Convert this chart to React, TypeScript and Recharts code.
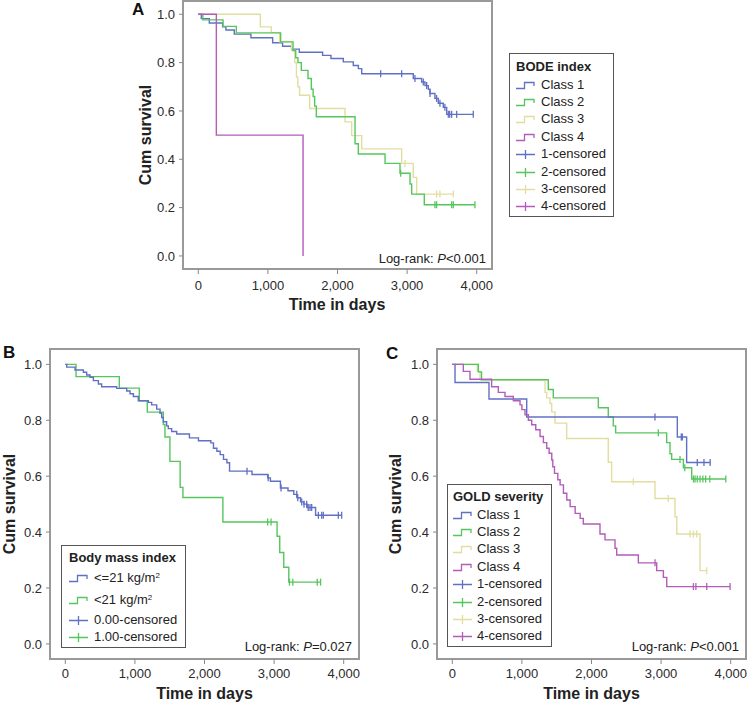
import React from 'react';
import { ComposedChart, Line, Scatter, XAxis, YAxis, ReferenceArea } from 'recharts';

type Pt = [number, number];

const FONT = '"Liberation Sans", Arial, Helvetica, sans-serif';

const xTicks = [0, 1000, 2000, 3000, 4000];
const yTicks = [0, 0.2, 0.4, 0.6, 0.8, 1.0];
const xDomain: [number, number] = [-220, 4220];
const yDomain: [number, number] = [-0.054, 1.055];

const BLUE = '#6070c4';
const GREEN = '#55c65d';
const YELLOW = '#e2dea0';
const PURPLE = '#b35cb9';

// A: BODE index  [day, cum survival]
const bodeClass1: Pt[] = [
  [0, 1], [43, 0.982], [158, 0.964], [349, 0.948], [397, 0.935], [517, 0.918], [756, 0.903],
  [1068, 0.882], [1211, 0.868], [1340, 0.856], [1451, 0.843], [1786, 0.83], [1906, 0.817],
  [2083, 0.803], [2227, 0.788], [2300, 0.775], [2348, 0.754], [3089, 0.734], [3209, 0.72],
  [3257, 0.705], [3305, 0.69], [3329, 0.672], [3400, 0.652], [3448, 0.632], [3520, 0.615],
  [3569, 0.586], [3951, 0.586],
];
const bodeClass1Cens = [2620, 2922, 3113, 3233, 3281, 3329, 3424, 3472, 3543, 3592, 3612, 3640, 3712, 3951];

const bodeClass2: Pt[] = [
  [0, 1], [65, 0.977], [355, 0.95], [546, 0.923], [1183, 0.886], [1361, 0.85], [1400, 0.82],
  [1432, 0.8], [1480, 0.768], [1576, 0.734], [1624, 0.69], [1650, 0.66], [1672, 0.62],
  [1696, 0.576], [2252, 0.464], [2299, 0.422], [2683, 0.383], [2898, 0.342], [3042, 0.298],
  [3066, 0.256], [3247, 0.212], [3975, 0.212],
];
const bodeClass2Cens = [2908, 3400, 3424, 3640, 3664, 3975];

const bodeClass3: Pt[] = [
  [0, 1], [891, 0.948], [1049, 0.924], [1169, 0.886], [1340, 0.85], [1385, 0.8], [1410, 0.74],
  [1430, 0.7], [1455, 0.665], [1600, 0.61], [2108, 0.555], [2204, 0.498], [2348, 0.443],
  [2922, 0.383], [3089, 0.325], [3138, 0.256], [3664, 0.256],
];
const bodeClass3Cens = [2970, 3424, 3472, 3664];

const bodeClass4: Pt[] = [[0, 1], [259, 0.5], [1505, 0]];
const bodeClass4Cens: number[] = [];

// B: Body mass index
const bmiLow: Pt[] = [
  [0, 1], [20, 0.99], [140, 0.98], [260, 0.972], [307, 0.962], [355, 0.954], [403, 0.942],
  [475, 0.93], [522, 0.92], [738, 0.914], [882, 0.905], [930, 0.895], [978, 0.885], [1049, 0.87],
  [1193, 0.864], [1241, 0.855], [1313, 0.84], [1361, 0.825], [1385, 0.81], [1408, 0.795],
  [1456, 0.78], [1480, 0.77], [1528, 0.76], [1600, 0.751], [1783, 0.737], [1913, 0.727],
  [2091, 0.719], [2129, 0.7], [2178, 0.689], [2225, 0.677], [2273, 0.66], [2322, 0.648],
  [2360, 0.618], [2683, 0.606], [2908, 0.594], [2947, 0.582], [3091, 0.558], [3200, 0.548],
  [3283, 0.535], [3332, 0.523], [3380, 0.508], [3427, 0.5], [3476, 0.488], [3596, 0.46],
  [3975, 0.46],
];
const bmiLowCens = [2611, 2915, 3100, 3325, 3340, 3397, 3430, 3468, 3490, 3516, 3540, 3636, 3684, 3707, 3923, 3971];

const bmiHigh: Pt[] = [
  [0, 1], [154, 0.956], [776, 0.915], [1063, 0.87], [1178, 0.829], [1408, 0.785], [1432, 0.74],
  [1503, 0.653], [1650, 0.56], [1690, 0.524], [2264, 0.436], [3043, 0.385], [3081, 0.327],
  [3139, 0.274], [3211, 0.221], [3668, 0.221],
];
const bmiHighCens = [2908, 2956, 3221, 3269, 3620, 3668];

// C: GOLD severity
const goldClass1: Pt[] = [[0, 1], [39, 0.935], [527, 0.876], [1069, 0.812], [3233, 0.74], [3367, 0.649], [3705, 0.649]];
const goldClass1Cens = [2912, 3290, 3305, 3520, 3616, 3705];

const goldClass2: Pt[] = [
  [0, 1], [374, 0.973], [420, 0.945], [1379, 0.91], [1451, 0.88], [2098, 0.845], [2241, 0.812],
  [2313, 0.78], [2347, 0.755], [3080, 0.72], [3128, 0.68], [3152, 0.66], [3320, 0.63],
  [3440, 0.59], [3930, 0.59],
];
const goldClass2Cens = [2960, 3272, 3340, 3465, 3488, 3520, 3560, 3600, 3640, 3700, 3930];

const goldClass3: Pt[] = [
  [0, 1], [359, 0.975], [398, 0.945], [1333, 0.9], [1356, 0.88], [1404, 0.86], [1428, 0.83],
  [1476, 0.79], [1643, 0.735], [2241, 0.65], [2289, 0.58], [2912, 0.52], [3200, 0.455],
  [3225, 0.393], [3560, 0.262], [3656, 0.262],
];
const goldClass3Cens = [2601, 3103, 3416, 3464, 3512, 3656];

const goldClass4: Pt[] = [
  [0, 1], [158, 0.975], [254, 0.947], [565, 0.92], [661, 0.9], [757, 0.885], [877, 0.87],
  [973, 0.855], [1000, 0.838], [1045, 0.82], [1093, 0.8], [1141, 0.784], [1199, 0.766],
  [1261, 0.742], [1309, 0.72], [1357, 0.7], [1391, 0.682], [1429, 0.658], [1444, 0.634],
  [1468, 0.61], [1516, 0.587], [1549, 0.569], [1597, 0.539], [1645, 0.515], [1693, 0.491],
  [1765, 0.467], [1837, 0.449], [1882, 0.429], [2122, 0.393], [2194, 0.372], [2338, 0.342],
  [2362, 0.318], [2673, 0.29], [2937, 0.262], [3033, 0.238], [3081, 0.205], [3991, 0.205],
];
const goldClass4Cens = [2913, 3464, 3500, 3656, 3991];

const toRows = (pts: Pt[]) => pts.map(([t, s]) => ({ t, s }));
const survAt = (pts: Pt[], t: number) => {
  let s = pts[0][1];
  for (const [pt, ps] of pts) if (pt <= t) s = ps;
  return s;
};
const censRows = (pts: Pt[], times: number[]) => times.map((t) => ({ t, s: survAt(pts, t) }));

interface Curve {
  pts: Pt[];
  cens: number[];
  color: string;
}

interface KMProps {
  left: number;
  top: number;
  width: number;
  height: number;
  margin: { top: number; right: number; bottom: number; left: number };
  xTickMargin: number;
  curves: Curve[];
}

const tickStyle = { fontSize: 13, fill: '#2a2a2a', fontFamily: FONT };

function KMChart({ left, top, width, height, margin, xTickMargin, curves }: KMProps) {
  return (
    <div style={{ position: 'absolute', left, top }}>
      <ComposedChart width={width} height={height} margin={margin}>
        <XAxis
          type="number"
          dataKey="t"
          domain={xDomain}
          ticks={xTicks}
          interval={0}
          allowDataOverflow
          axisLine={false}
          tickLine={{ stroke: '#888' }}
          tickSize={5}
          tickMargin={xTickMargin}
          height={30}
          tick={tickStyle}
          tickFormatter={(v: number) => v.toLocaleString('en-US')}
        />
        <YAxis
          type="number"
          dataKey="s"
          domain={yDomain}
          ticks={yTicks}
          interval={0}
          allowDataOverflow
          axisLine={false}
          tickLine={{ stroke: '#888' }}
          tickSize={4}
          tickMargin={4}
          width={40}
          tick={tickStyle}
          tickFormatter={(v: number) => v.toFixed(1)}
        />
        <ReferenceArea
          x1={xDomain[0]}
          x2={xDomain[1]}
          y1={yDomain[0]}
          y2={yDomain[1]}
          fill="none"
          fillOpacity={0}
          stroke="#999"
          strokeWidth={2}
          ifOverflow="visible"
        />
        {curves.map((c, i) => (
          <Line
            key={'l' + i}
            data={toRows(c.pts)}
            dataKey="s"
            type="stepAfter"
            stroke={c.color}
            strokeWidth={1.4}
            dot={false}
            activeDot={false}
            isAnimationActive={false}
          />
        ))}
        {curves.map((c, i) => (
          <Scatter
            key={'c' + i}
            data={censRows(c.pts, c.cens)}
            dataKey="s"
            fill={c.color}
            isAnimationActive={false}
            shape={(p: any) => (
              <line x1={p.cx} x2={p.cx} y1={p.cy - 3.5} y2={p.cy + 3.5} stroke={c.color} strokeWidth={1.3} />
            )}
          />
        ))}
      </ComposedChart>
    </div>
  );
}

function StepIcon({ color }: { color: string }) {
  return (
    <svg width={19} height={10} style={{ display: 'block' }}>
      <path d="M0,8.5 H8.5 V2.5 H18 V6" fill="none" stroke={color} strokeWidth={1.3} />
    </svg>
  );
}

function CensIcon({ color }: { color: string }) {
  return (
    <svg width={19} height={10} style={{ display: 'block' }}>
      <path d="M0,5.5 H19 M9.5,1 V10" fill="none" stroke={color} strokeWidth={1.3} />
    </svg>
  );
}

interface LegendItem {
  label: React.ReactNode;
  color: string;
  kind: 'step' | 'cens';
  h?: number;
}

function LegendBox({
  left, top, width, padLeft, padTop, gap, title, items,
}: {
  left: number; top: number; width: number; padLeft: number; padTop: number; gap: number;
  title: string; items: LegendItem[];
}) {
  return (
    <div
      style={{
        position: 'absolute', left, top, width, boxSizing: 'border-box',
        border: '1px solid #555', background: '#fff', paddingLeft: padLeft, paddingTop: padTop,
        paddingBottom: 1, fontFamily: FONT, fontSize: 13, color: '#222',
      }}
    >
      <div style={{ fontWeight: 'bold', height: 18, lineHeight: '18px' }}>{title}</div>
      {items.map((it, i) => (
        <div key={i} style={{ display: 'flex', alignItems: 'center', height: it.h ?? 17.4, whiteSpace: 'nowrap' }}>
          {it.kind === 'step' ? <StepIcon color={it.color} /> : <CensIcon color={it.color} />}
          <span style={{ marginLeft: gap, lineHeight: '14px' }}>{it.label}</span>
        </div>
      ))}
    </div>
  );
}

const classLegend = (colors: string[]): LegendItem[] => [
  { label: 'Class 1', color: colors[0], kind: 'step' },
  { label: 'Class 2', color: colors[1], kind: 'step' },
  { label: 'Class 3', color: colors[2], kind: 'step' },
  { label: 'Class 4', color: colors[3], kind: 'step' },
  { label: '1-censored', color: colors[0], kind: 'cens' },
  { label: '2-censored', color: colors[1], kind: 'cens' },
  { label: '3-censored', color: colors[2], kind: 'cens' },
  { label: '4-censored', color: colors[3], kind: 'cens' },
];

const kgm2 = (prefix: string) => (
  <>
    {prefix} kg/m<sup style={{ fontSize: 8, verticalAlign: 'top', position: 'relative', top: -2 }}>2</sup>
  </>
);

export default function App() {
  const colors = [BLUE, GREEN, YELLOW, PURPLE];
  const titleStyle = { fontFamily: FONT, fontSize: 16, fontWeight: 'bold' as const, fill: '#222' };
  const noteStyle = { fontFamily: FONT, fontSize: 13, fill: '#222' };
  const letterStyle = { fontFamily: FONT, fontSize: 17, fontWeight: 'bold' as const, fill: '#111' };
  return (
    <div style={{ position: 'absolute', left: 0, top: 0, width: 747, height: 704, background: '#fff', overflow: 'hidden' }}>
      <KMChart
        left={0}
        top={0}
        width={630}
        height={320}
        margin={{ top: 1, right: 138, bottom: 21, left: 143 }}
        xTickMargin={7}
        curves={[
          { pts: bodeClass1, cens: bodeClass1Cens, color: BLUE },
          { pts: bodeClass3, cens: bodeClass3Cens, color: YELLOW },
          { pts: bodeClass2, cens: bodeClass2Cens, color: GREEN },
          { pts: bodeClass4, cens: bodeClass4Cens, color: PURPLE },
        ]}
      />
      <KMChart
        left={0}
        top={330}
        width={370}
        height={374}
        margin={{ top: 19, right: 11, bottom: 15, left: 10 }}
        xTickMargin={5}
        curves={[
          { pts: bmiHigh, cens: bmiHighCens, color: GREEN },
          { pts: bmiLow, cens: bmiLowCens, color: BLUE },
        ]}
      />
      <KMChart
        left={370}
        top={330}
        width={377}
        height={374}
        margin={{ top: 19, right: 1, bottom: 15, left: 27 }}
        xTickMargin={5}
        curves={[
          { pts: goldClass3, cens: goldClass3Cens, color: YELLOW },
          { pts: goldClass2, cens: goldClass2Cens, color: GREEN },
          { pts: goldClass1, cens: goldClass1Cens, color: BLUE },
          { pts: goldClass4, cens: goldClass4Cens, color: PURPLE },
        ]}
      />

      <svg width={747} height={704} style={{ position: 'absolute', left: 0, top: 0, pointerEvents: 'none' }}>
        <text x={132} y={15} style={letterStyle}>A</text>
        <text x={3} y={358} style={letterStyle}>B</text>
        <text x={386} y={359} style={letterStyle}>C</text>

        <text transform="translate(151,135) rotate(-90)" textAnchor="middle" style={titleStyle}>Cum survival</text>
        <text transform="translate(15,504) rotate(-90)" textAnchor="middle" style={titleStyle}>Cum survival</text>
        <text transform="translate(401,504) rotate(-90)" textAnchor="middle" style={titleStyle}>Cum survival</text>

        <text x={337} y={310} textAnchor="middle" style={titleStyle}>Time in days</text>
        <text x={204.5} y={699} textAnchor="middle" style={titleStyle}>Time in days</text>
        <text x={591.5} y={699} textAnchor="middle" style={titleStyle}>Time in days</text>

        <text x={486} y={262.5} textAnchor="end" style={noteStyle}>
          Log-rank: <tspan fontStyle="italic">P</tspan>&lt;0.001
        </text>
        <text x={352} y={650.5} textAnchor="end" style={noteStyle}>
          Log-rank: <tspan fontStyle="italic">P</tspan>=0.027
        </text>
        <text x={739} y={650.5} textAnchor="end" style={noteStyle}>
          Log-rank: <tspan fontStyle="italic">P</tspan>&lt;0.001
        </text>
      </svg>

      <LegendBox left={509} top={53} width={105} padLeft={6} padTop={4} gap={6} title="BODE index" items={classLegend(colors)} />
      <LegendBox
        left={61}
        top={545}
        width={125}
        padLeft={7}
        padTop={3}
        gap={6}
        title="Body mass index"
        items={[
          { label: kgm2('<=21'), color: BLUE, kind: 'step', h: 22 },
          { label: kgm2('<21'), color: GREEN, kind: 'step', h: 22 },
          { label: '0.00-censored', color: BLUE, kind: 'cens' },
          { label: '1.00-censored', color: GREEN, kind: 'cens' },
        ]}
      />
      <LegendBox left={447} top={484} width={105} padLeft={5} padTop={3} gap={5} title="GOLD severity" items={classLegend(colors)} />
    </div>
  );
}
